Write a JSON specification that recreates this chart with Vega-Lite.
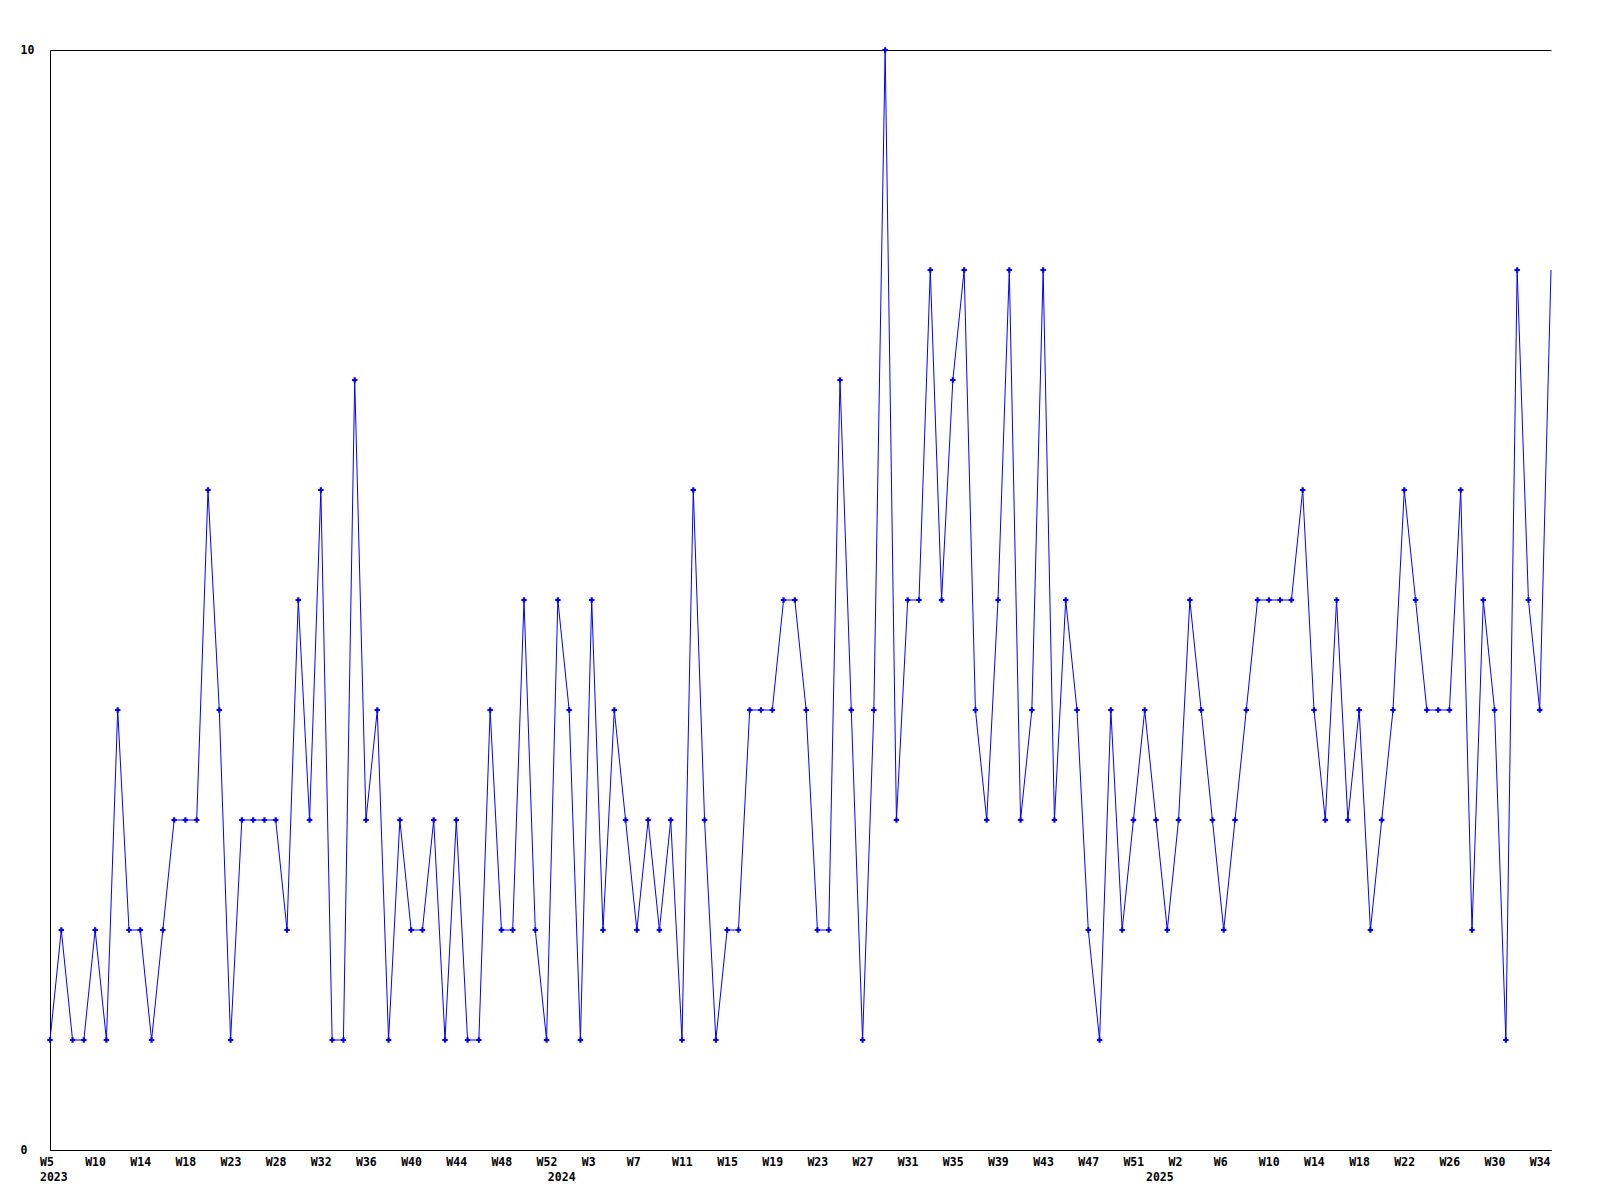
{
  "$schema": "https://vega.github.io/schema/vega-lite/v6.json",
  "width": 1501,
  "height": 1100,
  "autosize": {"type": "none"},
  "padding": {"left": 50, "top": 50, "right": 49, "bottom": 50},
  "background": "white",
  "config": {
    "view": {"stroke": null},
    "axis": {
      "labelFont": "DejaVu Sans Mono",
      "labelFontWeight": "bold",
      "labelFontSize": 11.5,
      "labelColor": "black"
    }
  },
  "data": {
    "values": [
      {"i": 0, "v": 1}, {"i": 1, "v": 2}, {"i": 2, "v": 1}, {"i": 3, "v": 1}, {"i": 4, "v": 2},
      {"i": 5, "v": 1}, {"i": 6, "v": 4}, {"i": 7, "v": 2}, {"i": 8, "v": 2}, {"i": 9, "v": 1},
      {"i": 10, "v": 2}, {"i": 11, "v": 3}, {"i": 12, "v": 3}, {"i": 13, "v": 3}, {"i": 14, "v": 6},
      {"i": 15, "v": 4}, {"i": 16, "v": 1}, {"i": 17, "v": 3}, {"i": 18, "v": 3}, {"i": 19, "v": 3},
      {"i": 20, "v": 3}, {"i": 21, "v": 2}, {"i": 22, "v": 5}, {"i": 23, "v": 3}, {"i": 24, "v": 6},
      {"i": 25, "v": 1}, {"i": 26, "v": 1}, {"i": 27, "v": 7}, {"i": 28, "v": 3}, {"i": 29, "v": 4},
      {"i": 30, "v": 1}, {"i": 31, "v": 3}, {"i": 32, "v": 2}, {"i": 33, "v": 2}, {"i": 34, "v": 3},
      {"i": 35, "v": 1}, {"i": 36, "v": 3}, {"i": 37, "v": 1}, {"i": 38, "v": 1}, {"i": 39, "v": 4},
      {"i": 40, "v": 2}, {"i": 41, "v": 2}, {"i": 42, "v": 5}, {"i": 43, "v": 2}, {"i": 44, "v": 1},
      {"i": 45, "v": 5}, {"i": 46, "v": 4}, {"i": 47, "v": 1}, {"i": 48, "v": 5}, {"i": 49, "v": 2},
      {"i": 50, "v": 4}, {"i": 51, "v": 3}, {"i": 52, "v": 2}, {"i": 53, "v": 3}, {"i": 54, "v": 2},
      {"i": 55, "v": 3}, {"i": 56, "v": 1}, {"i": 57, "v": 6}, {"i": 58, "v": 3}, {"i": 59, "v": 1},
      {"i": 60, "v": 2}, {"i": 61, "v": 2}, {"i": 62, "v": 4}, {"i": 63, "v": 4}, {"i": 64, "v": 4},
      {"i": 65, "v": 5}, {"i": 66, "v": 5}, {"i": 67, "v": 4}, {"i": 68, "v": 2}, {"i": 69, "v": 2},
      {"i": 70, "v": 7}, {"i": 71, "v": 4}, {"i": 72, "v": 1}, {"i": 73, "v": 4}, {"i": 74, "v": 10},
      {"i": 75, "v": 3}, {"i": 76, "v": 5}, {"i": 77, "v": 5}, {"i": 78, "v": 8}, {"i": 79, "v": 5},
      {"i": 80, "v": 7}, {"i": 81, "v": 8}, {"i": 82, "v": 4}, {"i": 83, "v": 3}, {"i": 84, "v": 5},
      {"i": 85, "v": 8}, {"i": 86, "v": 3}, {"i": 87, "v": 4}, {"i": 88, "v": 8}, {"i": 89, "v": 3},
      {"i": 90, "v": 5}, {"i": 91, "v": 4}, {"i": 92, "v": 2}, {"i": 93, "v": 1}, {"i": 94, "v": 4},
      {"i": 95, "v": 2}, {"i": 96, "v": 3}, {"i": 97, "v": 4}, {"i": 98, "v": 3}, {"i": 99, "v": 2},
      {"i": 100, "v": 3}, {"i": 101, "v": 5}, {"i": 102, "v": 4}, {"i": 103, "v": 3}, {"i": 104, "v": 2},
      {"i": 105, "v": 3}, {"i": 106, "v": 4}, {"i": 107, "v": 5}, {"i": 108, "v": 5}, {"i": 109, "v": 5},
      {"i": 110, "v": 5}, {"i": 111, "v": 6}, {"i": 112, "v": 4}, {"i": 113, "v": 3}, {"i": 114, "v": 5},
      {"i": 115, "v": 3}, {"i": 116, "v": 4}, {"i": 117, "v": 2}, {"i": 118, "v": 3}, {"i": 119, "v": 4},
      {"i": 120, "v": 6}, {"i": 121, "v": 5}, {"i": 122, "v": 4}, {"i": 123, "v": 4}, {"i": 124, "v": 4},
      {"i": 125, "v": 6}, {"i": 126, "v": 2}, {"i": 127, "v": 5}, {"i": 128, "v": 4}, {"i": 129, "v": 1},
      {"i": 130, "v": 8}, {"i": 131, "v": 5}, {"i": 132, "v": 4}, {"i": 133, "v": 8}
    ]
  },
  "encoding": {
    "x": {
      "field": "i",
      "type": "quantitative",
      "scale": {"domain": [0, 133], "nice": false, "zero": false},
      "axis": {
        "title": null,
        "values": [0, 4, 8, 12, 16, 20, 24, 28, 32, 36, 40, 44, 45, 48, 52, 56, 60, 64, 68, 72, 76, 80, 84, 88, 92, 96, 98, 100, 104, 108, 112, 116, 120, 124, 128, 132],
        "labelExpr": "datum.value == 0 ? ['W5', '2023'] : datum.value == 45 ? ['', '2024'] : datum.value == 98 ? ['', '2025'] : ['W5','W10','W14','W18','W23','W28','W32','W36','W40','W44','W48','W52','W3','W7','W11','W15','W19','W23','W27','W31','W35','W39','W43','W47','W51','W2','W6','W10','W14','W18','W22','W26','W30','W34'][datum.value / 4]",
        "labelAlign": "left",
        "labelBaseline": "top",
        "labelOffset": -10.5,
        "labelPadding": 6,
        "labelLineHeight": 15,
        "labelOverlap": false,
        "labelFlush": false,
        "ticks": false,
        "tickSize": 0,
        "grid": false,
        "domainColor": "black",
        "domainWidth": 1
      }
    },
    "y": {
      "field": "v",
      "type": "quantitative",
      "scale": {"domain": [0, 10], "nice": false, "zero": true},
      "axis": {
        "title": null,
        "values": [0, 10],
        "grid": true,
        "gridColor": "black",
        "gridOpacity": 1,
        "gridWidth": 1,
        "domainColor": "black",
        "domainWidth": 1,
        "ticks": false,
        "tickSize": 0,
        "labelAlign": "left",
        "labelBaseline": "middle",
        "labelPadding": 30,
        "labelFlush": false,
        "labelOverlap": false
      }
    }
  },
  "layer": [
    {"mark": {"type": "line", "color": "#0000ff", "strokeWidth": 1}},
    {
      "transform": [{"filter": "datum.i < 133"}],
      "mark": {"type": "point", "shape": "cross", "filled": true, "color": "#0000ff", "size": 30, "opacity": 1}
    }
  ]
}
